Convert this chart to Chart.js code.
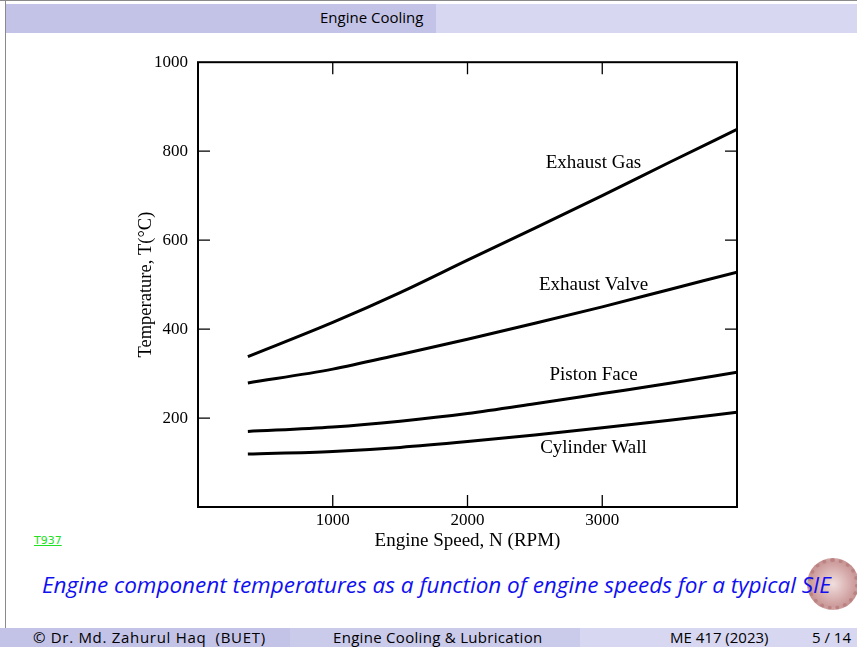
<!DOCTYPE html>
<html>
<head>
<meta charset="utf-8">
<script src="https://cdn.jsdelivr.net/npm/chart.js@4.4.0/dist/chart.umd.min.js"></script>
<style>
  html, body { margin:0; padding:0; background:#fff; }
  body { width:857px; height:647px; position:relative; overflow:hidden; font-family: "Open Sans", Lato, "DejaVu Sans", sans-serif; }
  .abs { position:absolute; white-space:nowrap; }
  #frameTop { left:0; top:0; width:857px; height:1px; background:#8a8a8a; }
  #frameLeft { left:5px; top:0; width:1px; height:628px; background:#8a8a8a; }
  #hdrL { left:6px; top:4px; width:430px; height:29px; background:#c3c3e7; }
  #hdrR { left:436px; top:4px; width:421px; height:29px; background:#d7d7f1; }
  #hdrText { left:320px; top:7px; font-size:15px; color:#000; }
  #ftrL { left:0; top:628px; width:290px; height:19px; background:#c3c3e7; }
  #ftrM { left:290px; top:628px; width:290px; height:19px; background:#cacaeb; }
  #ftrR { left:580px; top:628px; width:277px; height:19px; background:#d7d7f1; }
  .ft { top:627px; font-size:15px; color:#000; }
  #caption { left:42px; top:569px; font-size:22.5px; font-style:italic; color:#1010f0; z-index:3; }
  #t937 { left:34px; top:534px; font-size:11px; color:#22e022; text-decoration:underline; font-family:"DejaVu Sans", sans-serif; }
  #logo { left:807px; top:558px; width:44px; height:44px; border-radius:50%; border:4px dotted #b06d6d; background:radial-gradient(circle, #efd9d9 0%, #cf9c9c 55%, #b06d6d 100%); opacity:0.85; z-index:2; }
  #chartBox { position:absolute; left:120px; top:50px; width:640px; height:505px; }
</style>
</head>
<body>
<div class="abs" id="frameTop"></div>
<div class="abs" id="frameLeft"></div>
<div class="abs" id="hdrL"></div>
<div class="abs" id="hdrR"></div>
<div class="abs" id="hdrText">Engine Cooling</div>

<div id="chartBox"><canvas id="c" width="640" height="505"></canvas></div>

<div class="abs" id="t937">T937</div>
<div class="abs" id="logo"></div>
<div class="abs" id="caption">Engine component temperatures as a function of engine speeds for a typical SIE</div>

<div class="abs" id="ftrL"></div>
<div class="abs" id="ftrM"></div>
<div class="abs" id="ftrR"></div>
<div class="abs ft" style="left:33px; letter-spacing:0.7px;">&copy; Dr. Md. Zahurul Haq &nbsp;(BUET)</div>
<div class="abs ft" style="left:333px; letter-spacing:0.3px;">Engine Cooling &amp; Lubrication</div>
<div class="abs ft" style="left:670px;">ME 417 (2023)</div>
<div class="abs ft" style="left:812px;">5 / 14</div>

<script>
// ---- data ----
const speeds        = [370, 1000, 1500, 2000, 2500, 3000, 3500, 4000];
const exhaustGas    = [338, 415, 482, 555, 627, 700, 775, 849];
const exhaustValve  = [279, 310, 343, 377, 413, 450, 489, 528];
const pistonFace    = [170, 180, 193, 210, 232, 255, 278, 303];
const cylinderWall  = [119, 125, 134, 147, 162, 178, 195, 213];
const seriesNames   = ['Exhaust Gas', 'Exhaust Valve', 'Piston Face', 'Cylinder Wall'];
const labelAtX      = [2935, 2935, 2935, 2935];
const labelAtY      = [773, 499, 297, 133];
const xTicks        = [1000, 2000, 3000];
const yTicks        = [200, 400, 600, 800, 1000];
const rightTicks    = [400, 600, 800];

const toPts = arr => speeds.map((s, i) => ({x: s, y: arr[i]}));
const allSeries = [exhaustGas, exhaustValve, pistonFace, cylinderWall];

const serif = '"Liberation Serif", "Times New Roman", serif';

const framePlugin = {
  id: 'frame',
  afterDatasetsDraw(chart) {
    const {ctx, chartArea: a, scales: {x, y}} = chart;
    ctx.save();
    ctx.strokeStyle = '#000';
    ctx.lineWidth = 2;
    ctx.strokeRect(a.left, a.top, a.right - a.left, a.bottom - a.top);
    ctx.lineWidth = 1.3;
    ctx.beginPath();
    xTicks.forEach(v => {
      const px = x.getPixelForValue(v);
      ctx.moveTo(px, a.bottom); ctx.lineTo(px, a.bottom - 12);
      ctx.moveTo(px, a.top); ctx.lineTo(px, a.top + 12);
    });
    yTicks.slice(0, -1).forEach(v => {
      const py = y.getPixelForValue(v);
      ctx.moveTo(a.left, py); ctx.lineTo(a.left + 12, py);
    });
    rightTicks.forEach(v => {
      const py = y.getPixelForValue(v);
      ctx.moveTo(a.right, py); ctx.lineTo(a.right - 12, py);
    });
    ctx.stroke();
    // series labels
    ctx.fillStyle = '#000';
    ctx.font = '19px ' + serif;
    ctx.textAlign = 'center';
    ctx.textBaseline = 'middle';
    seriesNames.forEach((n, i) => {
      ctx.fillText(n, x.getPixelForValue(labelAtX[i]), y.getPixelForValue(labelAtY[i]));
    });
    ctx.restore();
  }
};

new Chart(document.getElementById('c'), {
  type: 'line',
  data: {
    datasets: allSeries.map((arr, i) => ({
      label: seriesNames[i],
      data: toPts(arr),
      borderColor: '#000',
      borderWidth: 3,
      pointRadius: 0,
      fill: false,
      cubicInterpolationMode: 'monotone'
    }))
  },
  options: {
    responsive: false,
    animation: false,
    layout: { padding: { top: 6, right: 23, left: 0, bottom: 0 } },
    plugins: { legend: { display: false }, tooltip: { enabled: false } },
    scales: {
      x: {
        type: 'linear', min: 0, max: 4000,
        grid: { display: false }, border: { display: false },
        afterBuildTicks: s => { s.ticks = xTicks.map(v => ({value: v})); },
        afterFit: s => { s.height = 48; },
        ticks: { color: '#000', padding: -5, maxRotation: 0, font: { family: serif, size: 17 }, callback: v => String(v) },
        title: { display: true, text: 'Engine Speed, N (RPM)', color: '#000', padding: { top: 0, bottom: 3 }, font: { family: serif, size: 19 } }
      },
      y: {
        type: 'linear', min: 0, max: 1000,
        grid: { display: false }, border: { display: false },
        afterBuildTicks: s => { s.ticks = yTicks.map(v => ({value: v})); },
        afterFit: s => { s.width = 78; },
        ticks: { color: '#000', padding: 2, font: { family: serif, size: 17 }, callback: v => String(v) },
        title: { display: true, text: 'Temperature, T(°C)', color: '#000', padding: { top: 15, bottom: 0 }, font: { family: serif, size: 18.5 } }
      }
    }
  },
  plugins: [framePlugin]
});
</script>
</body>
</html>
